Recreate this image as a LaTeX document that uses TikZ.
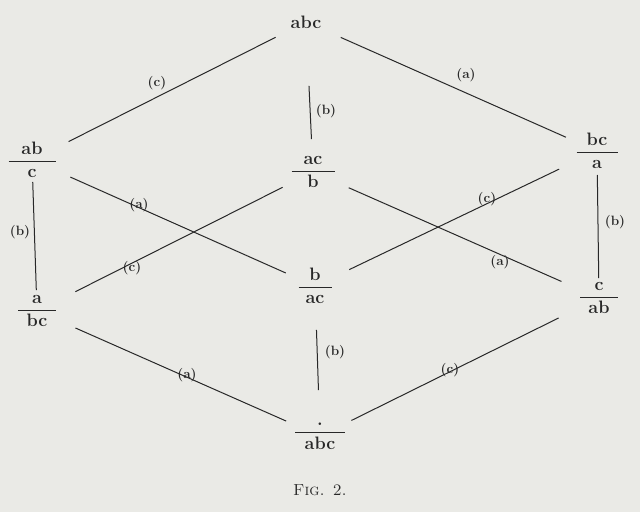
\documentclass[tikz,border=0pt]{standalone}
\usepackage{amsmath}
\definecolor{paper}{RGB}{234,234,230}
\definecolor{ink}{RGB}{40,40,40}
\newcommand{\frc}[3][40pt]{$\genfrac{}{}{0.7pt}{0}{\makebox[#1]{#2}}{\makebox[#1]{#3}}$}
\tikzset{
  term/.style={inner sep=0pt, text=ink, font=\fontsize{18}{20}\selectfont\bfseries},
  lbl/.style={inner sep=0pt, text=ink, font=\fontsize{13.5}{15}\selectfont\bfseries},
  edge/.style={line width=1pt, color=ink, shorten <=38pt, shorten >=38pt},
}

\begin{document}
\begin{tikzpicture}[x=1pt,y=-1pt]
		%%%%% START %%%%%
		
		\fill[paper] (0,0) rectangle (640,512);
		\useasboundingbox (0,0) rectangle (640,512);
		
		\node[term] (t) at (306,22) {abc};
		
		\node[term] (ab-c) at (32,160) {\frc[47pt]{ab}{c}};
		\node[term] (ac-b) at (313,172) {\frc[43pt]{ac}{b}};
		\node[term] (bc-a) at (597,151) {\frc[41pt]{bc}{a}};
		
		\node[term] (a-bc) at (37,311) {\frc[38pt]{a}{bc}};
		\node[term] (b-ac) at (315,286) {\frc[33pt]{b}{ac}};
		\node[term] (c-ab) at (599,298) {\frc[38pt]{c}{ab}};
		
		\node[term] (bot) at (320,436) {\frc[50pt]{.}{abc}};
		
		\draw[edge, shorten <=34pt, shorten >=41pt] (t.center) -- (ab-c.center);
		\draw[edge, shorten <=64pt, shorten >=33pt] (t.center) -- (ac-b.center);
		\draw[edge, shorten <=38pt, shorten >=34pt] (t.center) -- (bc-a.center);
		
		\draw[edge, shorten <=22pt, shorten >=21pt] (ab-c.center) -- (a-bc.center);
		\draw[edge, shorten <=42pt, shorten >=32pt] (ab-c.center) -- (b-ac.center);
		\draw[edge, shorten <=43pt, shorten >=34pt] (a-bc.center) -- (ac-b.center);
		\draw[edge, shorten <=42pt, shorten >=38pt] (bc-a.center) -- (b-ac.center);
		\draw[edge, shorten <=41pt, shorten >=39pt] (c-ab.center) -- (ac-b.center);
		\draw[edge, shorten <=24pt, shorten >=20pt] (bc-a.center) -- (c-ab.center);
		
		\draw[edge, shorten <=42pt, shorten >=37pt] (a-bc.center) -- (bot.center);
		\draw[edge, shorten <=44pt, shorten >=46pt] (b-ac.center) -- (bot.center);
		\draw[edge, shorten <=45pt, shorten >=35pt] (c-ab.center) -- (bot.center);
		
		\node[lbl] (l-tc) at (157,83) {(c)};
		\node[lbl] (l-tb) at (326,111) {(b)};
		\node[lbl] (l-ta) at (466,75) {(a)};
		
		\node[lbl] (l-lb) at (20,232) {(b)};
		\node[lbl] (l-ma) at (139,205) {(a)};
		\node[lbl] (l-mc) at (132,268) {(c)};
		\node[lbl] (l-nc) at (487,199) {(c)};
		\node[lbl] (l-na) at (500,262) {(a)};
		\node[lbl] (l-rb) at (615,222) {(b)};
		
		\node[lbl] (l-ba) at (187,375) {(a)};
		\node[lbl] (l-bb) at (335,352) {(b)};
		\node[lbl] (l-bc) at (450,370) {(c)};
		
		\node[lbl, font=\fontsize{16}{18}\selectfont] (fig) at (320,490) {\textsc{Fig. 2.}};
		
		%%%%% END %%%%%
\end{tikzpicture}
\end{document}
